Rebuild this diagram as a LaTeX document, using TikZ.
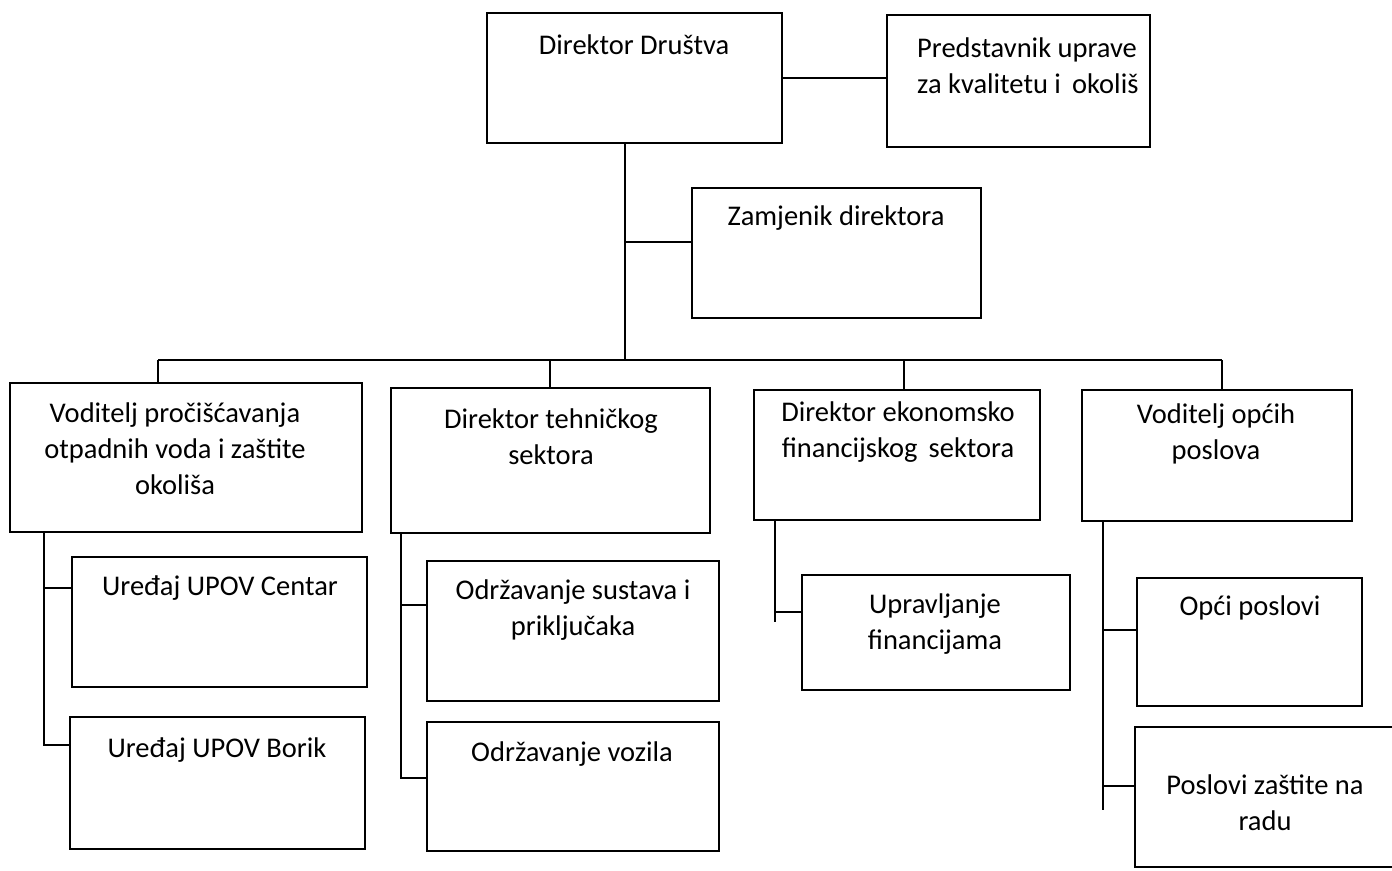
\documentclass[tikz,border=0pt]{standalone}
\usepackage{fontspec}
\setmainfont{Carlito}
\begin{document}
\begin{tikzpicture}[x=1pt,y=-1pt,
  box/.style={draw, line width=1.6pt, inner sep=0pt, fill=none},
  lbl/.style={font=\fontsize{28.5}{36}\selectfont, align=center, inner sep=0pt},
  conn/.style={line width=1.3pt}]
\useasboundingbox (0,0) rectangle (1392,870);
\clip (0,0) rectangle (1392,870);
\newcommand\obox[5]{\node[box, minimum width={(#4-#2)*1pt}, minimum height={(#5-#3)*1pt}] (#1) at ({(#2+#4)/2},{(#3+#5)/2}) {};}
% boxes
\obox{dir}{487}{13}{782}{143}
\obox{pred}{887}{15}{1150}{147}
\obox{zam}{692}{188}{981}{318}
\obox{vod}{10}{383}{362}{532}
\obox{teh}{391}{388}{710}{533}
\obox{eko}{754}{390}{1040}{520}
\obox{opc}{1082}{390}{1352}{521}
\obox{cen}{72}{557}{367}{687}
\obox{bor}{70}{717}{365}{849}
\obox{sus}{427}{561}{719}{701}
\obox{voz}{427}{722}{719}{851}
\obox{fin}{802}{575}{1070}{690}
\obox{opp}{1137}{578}{1362}{706}
\obox{zas}{1135}{727}{1410}{867}
% labels
\node[lbl] (dirt) at (634,45) {Direktor Društva};
\node[lbl, align=left, anchor=west] (predt) at (917,66) {Predstavnik uprave\\za kvalitetu i\, okoliš};
\node[lbl] (zamt) at (836,218) {Zamjenik direktora};
\node[lbl] (vodt) at (175,449) {Voditelj pročišćavanja\\otpadnih voda i zaštite\\okoliša};
\node[lbl] (teht) at (551,437) {Direktor tehničkog\\sektora};
\node[lbl] (ekot) at (898,432) {Direktor ekonomsko\\financijskog\, sektora};
\node[lbl] (opct) at (1216,434) {Voditelj općih\\poslova};
\node[lbl] (cent) at (220,588) {Uređaj UPOV Centar};
\node[lbl] (bort) at (217,750) {Uređaj UPOV Borik};
\node[lbl] (sust) at (573,610) {Održavanje sustava i\\priključaka};
\node[lbl] (vozt) at (572,754) {Održavanje vozila};
\node[lbl] (fint) at (935,624) {Upravljanje\\financijama};
\node[lbl] (oppt) at (1250,608) {Opći poslovi};
\node[lbl] (zast) at (1265,803) {Poslovi zaštite na\\radu};
% junction coordinates
\coordinate (j1) at (625,360);
\coordinate (z1) at (625,242);
\coordinate (bl) at (158,360);
\coordinate (br) at (1222,360);
\coordinate (b2) at (550,360);
\coordinate (b3) at (904,360);
\coordinate (v1) at (44,745);
\coordinate (t1) at (401,778);
\coordinate (e1) at (775,622);
\coordinate (g1) at (1103,810);
% connectors
\draw[conn] (dir.east) -- (dir.east -| pred.west);
\draw[conn] (dir.south -| j1) -- (j1);
\draw[conn] (z1) -- (z1 -| zam.west);
\draw[conn] (bl) -- (br);
\draw[conn] (bl) -- (bl |- vod.north);
\draw[conn] (b2) -- (b2 |- teh.north);
\draw[conn] (b3) -- (b3 |- eko.north);
\draw[conn] (br) -- (br |- opc.north);
% left branch
\draw[conn] (vod.south -| v1) -- (v1) -- (v1 -| bor.west);
\draw[conn] (44,588) -- (cen.west |- 0,588);
% tech branch
\draw[conn] (teh.south -| t1) -- (t1) -- (t1 -| voz.west);
\draw[conn] (401,605) -- (sus.west |- 0,605);
% econ branch
\draw[conn] (eko.south -| e1) -- (e1);
\draw[conn] (775,612) -- (fin.west |- 0,612);
% general branch
\draw[conn] (opc.south -| g1) -- (g1);
\draw[conn] (1103,630) -- (opp.west |- 0,630);
\draw[conn] (1103,786) -- (zas.west |- 0,786);
\end{tikzpicture}
\end{document}
